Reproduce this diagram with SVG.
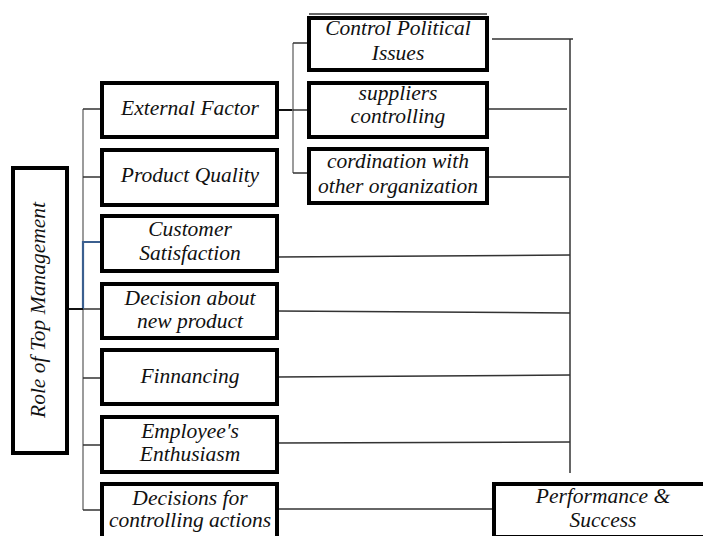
<svg xmlns="http://www.w3.org/2000/svg" width="703" height="536" viewBox="0 0 703 536">
  <style>
    .box { fill: #ffffff; stroke: #000000; stroke-width: 4; }
    .lbl { font-family: "Liberation Serif", "Times New Roman", serif; font-style: italic; font-size: 21.5px; fill: #111111; text-anchor: middle; }
    .ln { fill: none; stroke: #333333; stroke-width: 1.5; }
    .spine { fill: none; stroke: #7a7a7a; stroke-width: 1.5; }
    .blue { fill: none; stroke: #3b5f8f; stroke-width: 2.2; }
    .dark { fill: none; stroke: #111111; stroke-width: 2; }
  </style>
  <rect width="703" height="536" fill="#ffffff"/>

  <!-- connectors -->
  <g id="connectors">
    <!-- left spine and stubs to factor boxes -->
    <path class="spine" d="M83 109 V510"/>
    <path class="ln" d="M83 109 H102 M83 177 H102 M83 309 H102 M83 378 H102 M83 445 H102 M83 510 H102"/>
    <path class="blue" d="M83 309 V242 H102"/>
    <path class="dark" d="M67 309 H83"/>
    <!-- external factor branch -->
    <path class="dark" d="M277 110 H293"/>
    <path class="spine" d="M293 43 V173"/>
    <path class="ln" d="M293 43 H309 M293 110 H309 M293 173 H309"/>
    <!-- right collector -->
    <path class="ln" d="M492 39 H573 M487 109 H567 M487 177 H569"/>
    <path class="ln" d="M277 257 L570 255 M277 311 L570 313 M277 377 L570 375 M277 443 L570 442"/>
    <path class="ln" d="M570 39 V473"/>
    <path class="ln" d="M277 509 H494"/>
  </g>

  <!-- root node -->
  <g id="role-top-management">
    <rect class="box" x="13" y="168" width="54" height="285"/>
    <text class="lbl" font-size="23" transform="translate(45 310) rotate(-90)">Role of Top Management</text>
  </g>

  <!-- factor nodes -->
  <g id="external-factor">
    <rect class="box" x="102" y="83" width="175" height="54"/>
    <text class="lbl" x="190" y="115">External Factor</text>
  </g>
  <g id="product-quality">
    <rect class="box" x="102" y="150" width="175" height="55"/>
    <text class="lbl" x="190" y="182">Product Quality</text>
  </g>
  <g id="customer-satisfaction">
    <rect class="box" x="102" y="216" width="175" height="55"/>
    <text class="lbl" x="190" y="236">Customer</text>
    <text class="lbl" x="190" y="260">Satisfaction</text>
  </g>
  <g id="decision-new-product">
    <rect class="box" x="102" y="284" width="175" height="54"/>
    <text class="lbl" x="190" y="305">Decision about</text>
    <text class="lbl" x="190" y="328">new product</text>
  </g>
  <g id="financing">
    <rect class="box" x="102" y="350" width="175" height="54"/>
    <text class="lbl" x="190" y="383">Finnancing</text>
  </g>
  <g id="employee-enthusiasm">
    <rect class="box" x="102" y="417" width="175" height="55"/>
    <text class="lbl" x="190" y="438">Employee's</text>
    <text class="lbl" x="190" y="461">Enthusiasm</text>
  </g>
  <g id="decisions-controlling">
    <rect class="box" x="102" y="484" width="175" height="70"/>
    <text class="lbl" x="190" y="505">Decisions for</text>
    <text class="lbl" x="190" y="527">controlling actions</text>
  </g>

  <!-- external factor sub-nodes -->
  <g id="control-political">
    <path class="ln" d="M309 14 H487"/>
    <rect class="box" x="309" y="18" width="178" height="52"/>
    <text class="lbl" x="398" y="35">Control Political</text>
    <text class="lbl" x="398" y="60">Issues</text>
  </g>
  <g id="suppliers-controlling">
    <rect class="box" x="309" y="83" width="178" height="54"/>
    <text class="lbl" x="398" y="100">suppliers</text>
    <text class="lbl" x="398" y="123">controlling</text>
  </g>
  <g id="cordination">
    <rect class="box" x="309" y="149" width="178" height="54"/>
    <text class="lbl" x="398" y="168">cordination with</text>
    <text class="lbl" x="398" y="193">other organization</text>
  </g>

  <!-- outcome node -->
  <g id="performance-success">
    <rect class="box" x="494" y="484" width="240" height="53"/>
    <text class="lbl" x="603" y="503">Performance &amp;</text>
    <text class="lbl" x="603" y="527">Success</text>
  </g>
</svg>
